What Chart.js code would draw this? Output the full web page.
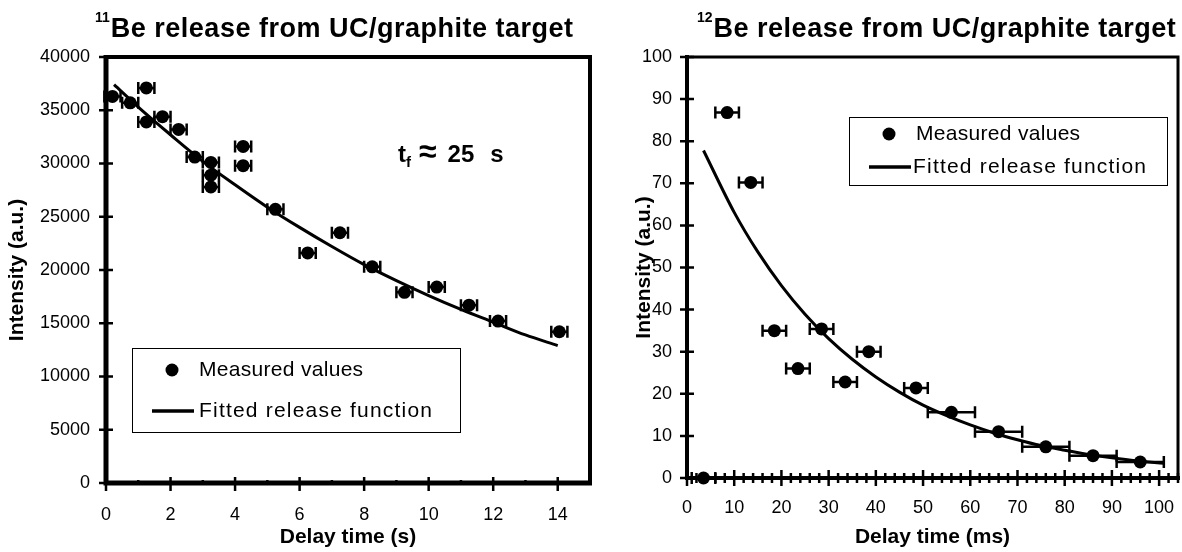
<!DOCTYPE html>
<html>
<head>
<meta charset="utf-8">
<script src="https://cdn.jsdelivr.net/npm/chart.js@4.4.1/dist/chart.umd.min.js"></script>
<style>
body{margin:0;background:#fff;width:1182px;height:552px;overflow:hidden;position:relative;font-family:"Liberation Sans",Arial,sans-serif;color:#000;}
.box{position:absolute;top:0;height:552px;}
#leftBox{left:0;width:592px;}
#rightBox{left:592px;width:590px;}
.ttl{position:absolute;top:15px;font-weight:bold;font-size:27px;line-height:27px;white-space:nowrap;letter-spacing:0.5px;}
.ttl sup{font-size:14px;line-height:0;vertical-align:15px;letter-spacing:0;margin-right:1px;}
#tf{position:absolute;left:398px;top:142px;font-weight:bold;font-size:24px;line-height:24px;white-space:nowrap;}
#tf sub{font-size:15px;line-height:0;vertical-align:-5px;}
#tf .ap{font-size:32px;line-height:0;margin:0 11px 0 8px;}
#tf .un{margin-left:16px;}
</style>
</head>
<body>
<div class="box" id="leftBox"><canvas id="chart11" width="592" height="552"></canvas></div>
<div class="box" id="rightBox"><canvas id="chart12" width="590" height="552"></canvas></div>
<div class="ttl" style="left:95px"><sup>11</sup>Be release from UC/graphite target</div>
<div class="ttl" style="left:697px"><sup>12</sup>Be release from UC/graphite target</div>
<div id="tf">t<sub>f</sub><span class="ap">&asymp;</span>25<span class="un">s</span></div>

<script>
// 11Be : measured values (delay time s, intensity a.u., time error s)
var be11_t    = [0.2, 0.75, 1.25, 1.25, 1.75, 2.25, 2.75, 3.25, 3.25, 3.25, 4.25, 4.25, 5.25, 6.25, 7.25, 8.25, 9.25, 10.25, 11.25, 12.15, 14.05];
var be11_int  = [36300, 35700, 37100, 33900, 34400, 33200, 30600, 30100, 28900, 27800, 31600, 29800, 25700, 21600, 23500, 20300, 17900, 18400, 16700, 15200, 14200];
var be11_terr = [0.25, 0.25, 0.25, 0.25, 0.25, 0.25, 0.25, 0.25, 0.25, 0.25, 0.25, 0.25, 0.25, 0.25, 0.25, 0.25, 0.25, 0.25, 0.25, 0.25, 0.25];
// 11Be : fitted release function
var be11_fit_t   = [0.25, 1, 2, 3, 4, 5, 6, 7, 8, 9, 10, 11, 12, 13, 14];
var be11_fit_int = [37400, 35300, 32700, 30200, 28000, 25900, 24000, 22200, 20500, 19000, 17600, 16300, 15100, 13900, 12900];
var be11_xTicks = [0, 2, 4, 6, 8, 10, 12, 14];

// 12Be : measured values (delay time ms, intensity a.u., time error ms)
var be12_t    = [3.5, 8.5, 13.5, 18.5, 23.5, 28.5, 33.5, 38.5, 48.5, 56, 66, 76, 86, 96];
var be12_int  = [0, 86.8, 70.2, 35.0, 26.0, 35.4, 22.8, 30.0, 21.4, 15.6, 11.0, 7.4, 5.3, 3.8];
var be12_terr = [2.5, 2.5, 2.5, 2.5, 2.5, 2.5, 2.5, 2.5, 2.5, 5, 5, 5, 5, 5];
// 12Be : fitted release function
var be12_fit_t   = [3.5, 10, 15, 20, 25, 30, 35, 40, 45, 50, 55, 60, 65, 70, 75, 80, 85, 90, 95, 101];
var be12_fit_int = [77.8, 63.1, 53.7, 45.7, 38.9, 33.1, 28.2, 24.0, 20.4, 17.3, 14.8, 12.6, 10.7, 9.1, 7.7, 6.6, 5.6, 4.8, 4.1, 3.5];
var be12_xTicks = [0, 10, 20, 30, 40, 50, 60, 70, 80, 90, 100];

var legendLabels = ['Measured values', 'Fitted release function'];
var FONT = '"Liberation Sans", Arial, sans-serif';

function toPoints(xs, ys){
    var out = [];
    for(var i = 0; i < xs.length; i++){
        out.push({x: xs[i], y: ys[i]});
    }
    return out;
}

// horizontal error bars on the measured points
var errorBars = {
    id: 'errorBars',
    beforeDatasetsDraw: function(chart){
        var ctx = chart.ctx, xs = chart.scales.x, ys = chart.scales.y;
        var ds = chart.data.datasets[0];
        ctx.save();
        ctx.strokeStyle = '#000';
        ctx.lineWidth = 2.5;
        ds.data.forEach(function(p, i){
            var y = ys.getPixelForValue(p.y);
            var x1 = xs.getPixelForValue(p.x - ds.xErr[i]);
            var x2 = xs.getPixelForValue(p.x + ds.xErr[i]);
            ctx.beginPath();
            ctx.moveTo(x1, y); ctx.lineTo(x2, y);
            ctx.moveTo(x1, y - 6); ctx.lineTo(x1, y + 6);
            ctx.moveTo(x2, y - 6); ctx.lineTo(x2, y + 6);
            ctx.stroke();
        });
        ctx.restore();
    }
};

// box frame, thick axes and ticks crossing the axes
var frame = {
    id: 'frame',
    beforeDatasetsDraw: function(chart, args, o){
        var ctx = chart.ctx, a = chart.chartArea, xs = chart.scales.x, ys = chart.scales.y;
        ctx.save();
        ctx.strokeStyle = '#000';
        ctx.lineWidth = o.frameWidth;
        ctx.strokeRect(a.left, a.top, a.right - a.left, a.bottom - a.top);
        ctx.lineWidth = o.axisWidth;
        ctx.beginPath();
        ctx.moveTo(a.left, a.top - 2); ctx.lineTo(a.left, a.bottom); ctx.lineTo(a.right + 2, a.bottom);
        ctx.stroke();
        ctx.lineWidth = 2.5;
        ctx.beginPath();
        xs.ticks.forEach(function(t){
            var px = xs.getPixelForValue(t.value);
            var len = t.label !== '' ? o.xMajor : o.xMinor;
            ctx.moveTo(px, a.bottom - len[0]); ctx.lineTo(px, a.bottom + len[1]);
        });
        ys.ticks.forEach(function(t){
            var py = ys.getPixelForValue(t.value);
            ctx.moveTo(a.left - o.yTick, py); ctx.lineTo(a.left + o.yTick, py);
        });
        ctx.stroke();
        ctx.restore();
    }
};

var boxLegend = {
    id: 'boxLegend',
    afterDraw: function(chart, args, o){
        var ctx = chart.ctx;
        ctx.save();
        ctx.fillStyle = '#fff';
        ctx.fillRect(o.x, o.y, o.w, o.h);
        ctx.strokeStyle = '#000';
        ctx.lineWidth = 1;
        ctx.strokeRect(o.x + 0.5, o.y + 0.5, o.w, o.h);
        ctx.fillStyle = '#000';
        ctx.beginPath();
        ctx.arc(o.dot[0], o.dot[1], 6.5, 0, Math.PI * 2);
        ctx.fill();
        ctx.lineWidth = 3.5;
        ctx.beginPath();
        ctx.moveTo(o.line[0], o.line[2]); ctx.lineTo(o.line[1], o.line[2]);
        ctx.stroke();
        ctx.font = o.fontSize + 'px ' + FONT;
        ctx.textBaseline = 'middle';
        ctx.letterSpacing = '0.3px';
        ctx.fillText(legendLabels[0], o.text[0], o.dot[1]);
        ctx.letterSpacing = '1.2px';
        ctx.fillText(legendLabels[1], o.text[1], o.line[2]);
        ctx.restore();
    }
};

function makeChart(id, c){
    var ctx = document.getElementById(id).getContext('2d');
    return new Chart(ctx, {
        type: 'scatter',
        data: {
            datasets: [{
                label: legendLabels[0],
                data: toPoints(c.t, c.val),
                xErr: c.err,
                backgroundColor: '#000',
                borderWidth: 0,
                pointRadius: 6.5,
                pointHoverRadius: 6.5,
                showLine: false,
                clip: false
            }, {
                label: legendLabels[1],
                data: toPoints(c.fitT, c.fitVal),
                borderColor: '#000',
                borderWidth: 3,
                pointRadius: 0,
                showLine: true,
                cubicInterpolationMode: 'monotone',
                clip: false
            }]
        },
        options: {
            responsive: false,
            animation: false,
            events: [],
            // no auto padding: the point radius would otherwise shrink the plot box
            layout: { autoPadding: false, padding: c.pad },
            plugins: {
                legend: { display: false },
                tooltip: { enabled: false },
                frame: c.frame,
                boxLegend: c.legend
            },
            scales: {
                x: {
                    type: 'linear',
                    min: 0, max: c.xMax,
                    grid: { display: false, drawTicks: false },
                    border: { display: false },
                    afterBuildTicks: function(s){
                        var tk = [];
                        for(var v = 0; v <= c.xMax + 1e-9; v += c.xMinor){
                            tk.push({value: Math.round(v * 100) / 100});
                        }
                        s.ticks = tk;
                    },
                    ticks: {
                        autoSkip: false, maxRotation: 0,
                        padding: c.xPad,
                        color: '#000',
                        font: { family: FONT, size: 18 },
                        callback: function(v){ return c.xLabels.indexOf(v) >= 0 ? String(v) : ''; }
                    },
                    title: {
                        display: true, text: c.xTitle, color: '#000',
                        font: { family: FONT, size: 21, weight: 'bold' },
                        padding: { top: 0, bottom: c.xTitlePad }
                    },
                    afterFit: function(s){
                        s.height = c.xH;
                        s.paddingLeft = 0;
                        s.paddingRight = 0;
                    }
                },
                y: {
                    type: 'linear',
                    min: 0, max: c.yMax,
                    grid: { display: false, drawTicks: false },
                    border: { display: false },
                    ticks: {
                        stepSize: c.yStep,
                        padding: c.yPad,
                        color: '#000',
                        font: { family: FONT, size: 18 },
                        callback: function(v){ return String(v); }
                    },
                    title: {
                        display: true, text: 'Intensity (a.u.)', color: '#000',
                        font: { family: FONT, size: 21, weight: 'bold' },
                        padding: { top: c.yTitlePad, bottom: 0 }
                    },
                    afterFit: function(s){
                        s.width = c.yW;
                        s.paddingTop = 0;
                        s.paddingBottom = 0;
                    }
                }
            }
        },
        plugins: [frame, errorBars, boxLegend]
    });
}

makeChart('chart11', {
    t: be11_t, val: be11_int, err: be11_terr,
    fitT: be11_fit_t, fitVal: be11_fit_int,
    xMax: 15, xMinor: 1, xLabels: be11_xTicks, xTitle: 'Delay time (s)',
    yMax: 40000, yStep: 5000,
    pad: { top: 57, right: 2, left: 0, bottom: 0 },
    yW: 106, xH: 69, xPad: 21, yPad: 16, xTitlePad: 2, yTitlePad: 5,
    frame: { frameWidth: 4, axisWidth: 5, xMajor: [6, 8], xMinor: [3, 2], yTick: 7 },
    legend: { x: 132, y: 348, w: 328, h: 84, dot: [172, 370], line: [152, 194, 411], text: [199, 199], fontSize: 21 }
});

makeChart('chart12', {
    t: be12_t, val: be12_int, err: be12_terr,
    fitT: be12_fit_t, fitVal: be12_fit_int,
    xMax: 104, xMinor: 2, xLabels: be12_xTicks, xTitle: 'Delay time (ms)',
    yMax: 100, yStep: 10,
    pad: { top: 57, right: 4, left: 0, bottom: 0 },
    yW: 95, xH: 74, xPad: 19, yPad: 15, xTitlePad: 2, yTitlePad: 40,
    frame: { frameWidth: 3, axisWidth: 4, xMajor: [8, 8], xMinor: [5, 5], yTick: 7 },
    legend: { x: 257, y: 117, w: 318, h: 68, dot: [297, 134], line: [277, 319, 167], text: [324, 321], fontSize: 21 }
});
</script>
</body>
</html>
